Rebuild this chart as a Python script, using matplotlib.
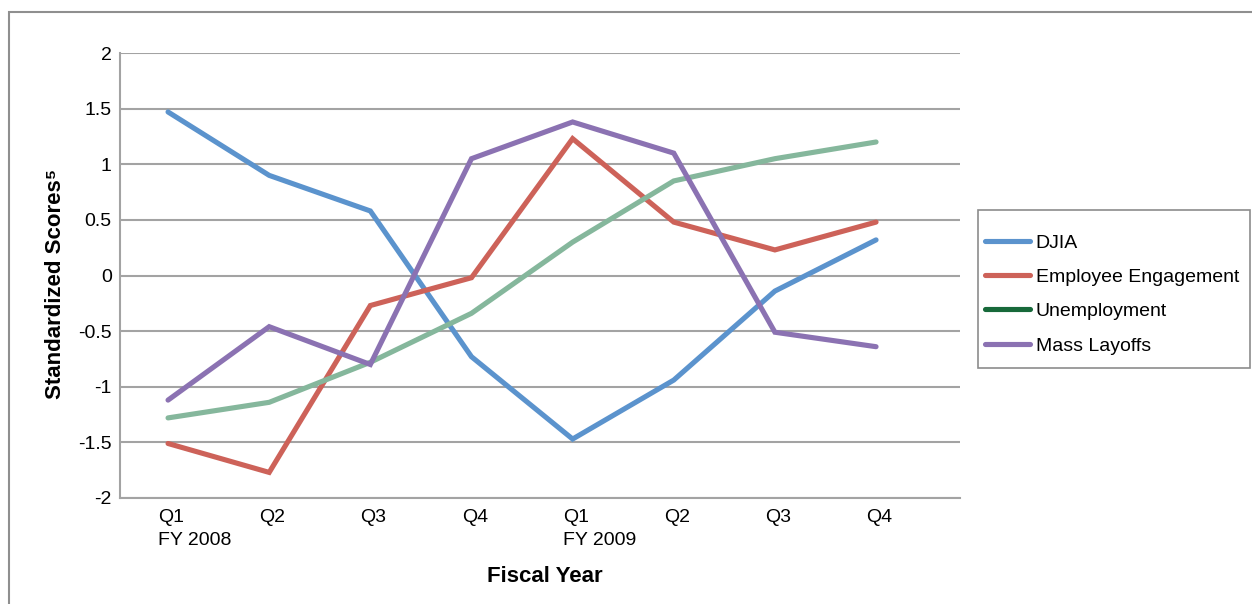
import matplotlib
matplotlib.use("Agg")
import matplotlib.pyplot as plt
from matplotlib.lines import Line2D
from matplotlib.patches import Rectangle

plt.rcParams['font.family'] = ['Liberation Sans', 'DejaVu Sans']

quarters = ["Q1\nFY 2008", "Q2", "Q3", "Q4", "Q1\nFY 2009", "Q2", "Q3", "Q4"]
djia = [1.47, 0.90, 0.58, -0.73, -1.47, -0.94, -0.14, 0.32]
engagement = [-1.51, -1.77, -0.27, -0.02, 1.23, 0.48, 0.23, 0.48]
unemployment = [-1.28, -1.14, -0.78, -0.34, 0.30, 0.85, 1.05, 1.20]
layoffs = [-1.12, -0.46, -0.80, 1.05, 1.38, 1.10, -0.51, -0.64]

c_djia = "#5B93CD"
c_eng = "#CD6259"
c_unemp = "#85B79C"
c_unemp_legend = "#17693A"
c_lay = "#8B72B2"
grid_c = "#A3A3A3"

W, H = 1252, 604
fig = plt.figure(figsize=(W/100, H/100), dpi=100)
ax = fig.add_axes([120/W, 1 - 498/H, 840/W, 445/H])

x = range(len(quarters))
lw = 3.7
for series, col in [(djia, c_djia), (engagement, c_eng),
                    (unemployment, c_unemp), (layoffs, c_lay)]:
    ax.plot(x, series, color=col, lw=lw, solid_joinstyle='miter', solid_capstyle='round')

ax.set_ylim(-2, 2)
ax.set_xlim(-0.475, 7.83)
ax.set_yticks([-2, -1.5, -1, -0.5, 0, 0.5, 1, 1.5, 2])
ax.set_yticklabels(["-2", "-1.5", "-1", "-0.5", "0", "0.5", "1", "1.5", "2"])
ax.tick_params(axis='y', length=0, pad=6, labelsize=14)
ax.set_xticks([])
ax.yaxis.grid(True, color=grid_c, lw=1.5)
ax.set_axisbelow(True)
for s in ['top', 'right']:
    ax.spines[s].set_visible(False)
for s in ['left', 'bottom']:
    ax.spines[s].set_color(grid_c)
    ax.spines[s].set_linewidth(1.5)

# category labels, left aligned just before each point
for i, lab in enumerate(quarters):
    ax.annotate(lab, xy=(i, 0), xycoords=('data', 'axes fraction'),
                xytext=(-7, -8), textcoords='offset points',
                ha='left', va='top', multialignment='left', fontsize=14,
                linespacing=1.45)

fig.text(545/W, 1 - 577/H, "Fiscal Year", ha='center', va='center',
         fontsize=16, fontweight='bold')
fig.text(56/W, 1 - 284/H, "Standardized Scores\u2075", ha='center', va='center',
         rotation=90, fontsize=16, fontweight='bold')

handles = [Line2D([], [], color=c_djia, lw=lw, solid_capstyle='round'),
           Line2D([], [], color=c_eng, lw=lw, solid_capstyle='round'),
           Line2D([], [], color=c_unemp_legend, lw=lw, solid_capstyle='round'),
           Line2D([], [], color=c_lay, lw=lw, solid_capstyle='round')]
labels = ["DJIA", "Employee Engagement", "Unemployment", "Mass Layoffs"]
fig.legend(handles, labels, loc='upper left',
           bbox_to_anchor=(985/W, 1 - 234/H), fontsize=14,
           handlelength=2.3, handletextpad=0.3, labelspacing=0.86,
           borderpad=0, borderaxespad=0, frameon=False)
fig.patches.append(Rectangle((978/W, 1 - 368/H), 272/W, 158/H,
                             transform=fig.transFigure, fill=False,
                             edgecolor="#8C8C8C", lw=1.2))

# outer chart border
fig.patches.append(Rectangle((9/W, -0.05), 1.1, 1 - 12/H + 0.05,
                             transform=fig.transFigure, fill=False,
                             edgecolor="#8F8F8F", lw=1.5))

fig.savefig("out.png", dpi=100)
